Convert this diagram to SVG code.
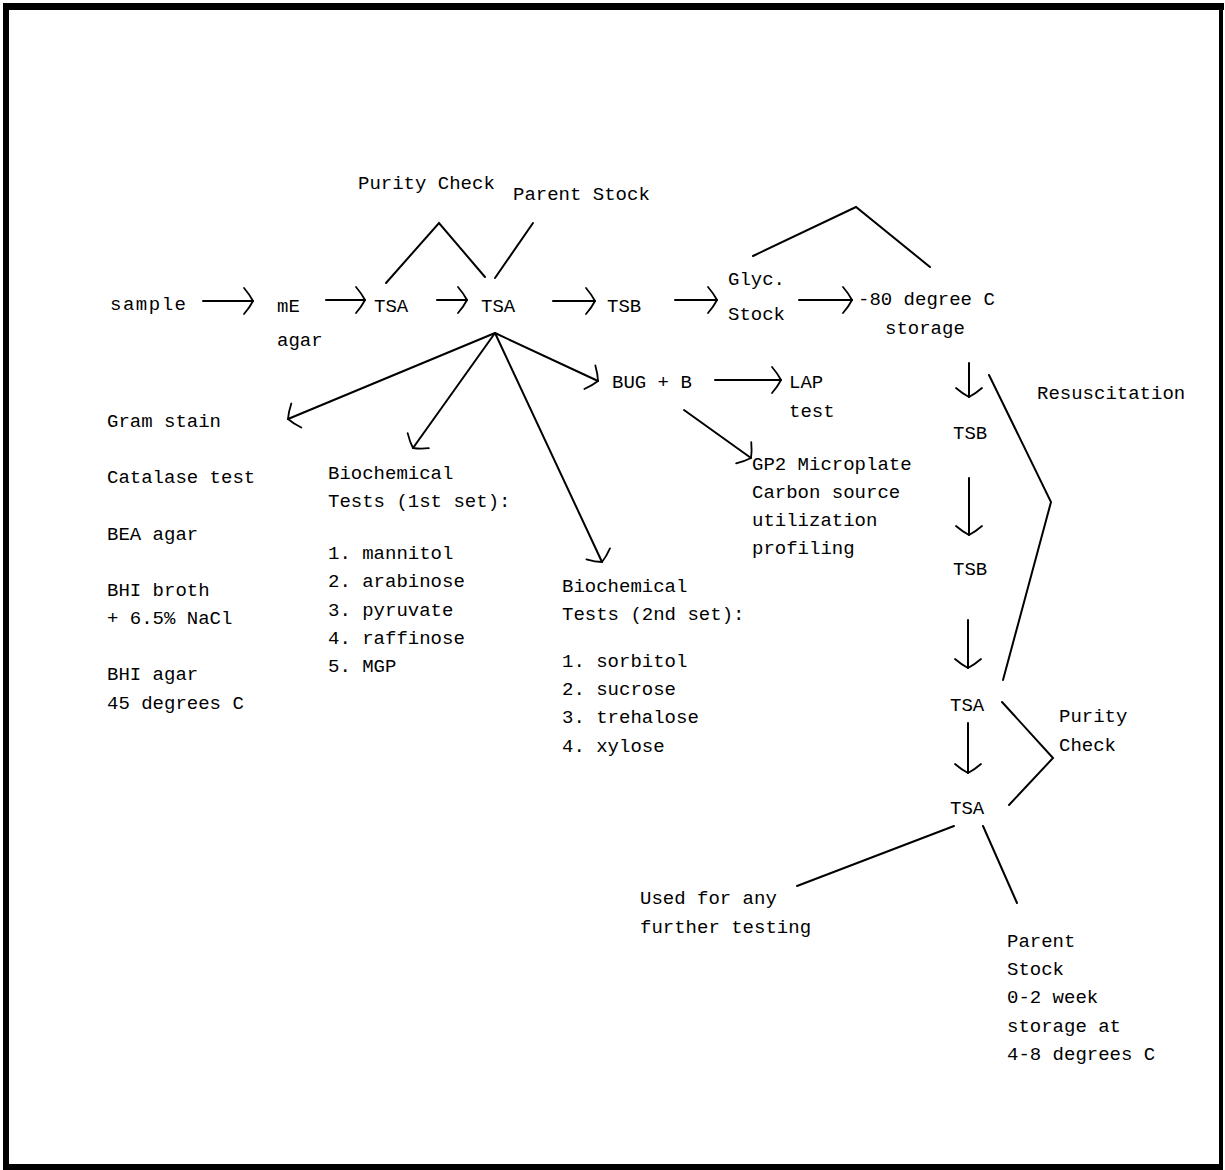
<svg xmlns="http://www.w3.org/2000/svg" width="1225" height="1170" viewBox="0 0 1225 1170">
<defs>
<style>
text { font-family: "Liberation Mono", "Courier New", monospace; font-size: 19px; fill: #000; }
.ln { fill: none; stroke: #000; stroke-width: 2; stroke-linecap: round; stroke-linejoin: miter; }
.ar { fill: none; stroke: #000; stroke-width: 2; stroke-linecap: round; marker-end: url(#head); }
</style>
<marker id="head" markerUnits="userSpaceOnUse" markerWidth="40" markerHeight="40" viewBox="-20 -20 40 40" refX="0" refY="0" orient="auto" overflow="visible">
<path d="M-9,-13 Q-3,-6 0,0 Q-3,6 -9,13" fill="none" stroke="#000" stroke-width="1.8" stroke-linecap="round"/>
</marker>
</defs>
<rect x="0" y="0" width="1225" height="1170" fill="#fff"/>
<g id="frame" fill="#000">
<rect x="3" y="3" width="1221" height="7"/>
<rect x="3" y="3" width="6" height="1167"/>
<rect x="1219" y="3" width="4" height="1167"/>
<rect x="3" y="1164" width="1220" height="6"/>
</g>
<g id="connectors">
<line class="ar" x1="203" y1="301" x2="253" y2="301"/>
<line class="ar" x1="326" y1="300" x2="365" y2="300"/>
<line class="ar" x1="437" y1="300" x2="467" y2="300"/>
<line class="ar" x1="553" y1="301" x2="595" y2="301"/>
<line class="ar" x1="675" y1="300" x2="717" y2="300"/>
<line class="ar" x1="799" y1="300" x2="852" y2="300"/>
<polyline class="ln" points="386,283 439,223 485,277"/>
<line class="ln" x1="495" y1="278" x2="533" y2="223"/>
<polyline class="ln" points="753,256 856,207 930,267"/>
<line class="ar" x1="495" y1="333" x2="288" y2="419"/>
<line class="ar" x1="495" y1="333" x2="413" y2="448"/>
<line class="ar" x1="495" y1="333" x2="602" y2="562"/>
<line class="ar" x1="495" y1="333" x2="598" y2="381"/>
<line class="ar" x1="715" y1="380" x2="781" y2="380"/>
<line class="ar" x1="684" y1="410" x2="751" y2="458"/>
<line class="ar" x1="969" y1="363" x2="969" y2="397"/>
<line class="ar" x1="969" y1="478" x2="969" y2="535"/>
<line class="ar" x1="968" y1="620" x2="968" y2="668"/>
<line class="ar" x1="968" y1="723" x2="968" y2="773"/>
<polyline class="ln" points="989,375 1051,502 1003,680"/>
<polyline class="ln" points="1002,702 1053,758 1009,805"/>
<line class="ln" x1="954" y1="826" x2="797" y2="886"/>
<line class="ln" x1="983" y1="826" x2="1017" y2="903"/>
</g>
<g id="n-sample"><text x="110" y="310" textLength="76" lengthAdjust="spacing">sample</text></g>
<g id="n-me-agar"><text x="277" y="312">mE</text><text x="277" y="346">agar</text></g>
<g id="n-tsa1"><text x="374" y="312">TSA</text></g>
<g id="n-tsa2"><text x="481" y="312">TSA</text></g>
<g id="n-purity1"><text x="358" y="189">Purity Check</text></g>
<g id="n-parent1"><text x="513" y="200">Parent Stock</text></g>
<g id="n-tsb1"><text x="607" y="312">TSB</text></g>
<g id="n-glyc"><text x="728" y="285">Glyc.</text><text x="728" y="320">Stock</text></g>
<g id="n-minus80"><text x="858" y="305">-80 degree C</text><text x="885" y="334">storage</text></g>
<g id="n-gram">
<text x="107" y="427">Gram stain</text>
<text x="107" y="483">Catalase test</text>
<text x="107" y="540">BEA agar</text>
<text x="107" y="596">BHI broth</text>
<text x="107" y="624">+ 6.5% NaCl</text>
<text x="107" y="680">BHI agar</text>
<text x="107" y="709">45 degrees C</text>
</g>
<g id="n-bio1">
<text x="328" y="479">Biochemical</text>
<text x="328" y="507">Tests (1st set):</text>
<text x="328" y="559">1. mannitol</text>
<text x="328" y="587">2. arabinose</text>
<text x="328" y="616">3. pyruvate</text>
<text x="328" y="644">4. raffinose</text>
<text x="328" y="672">5. MGP</text>
</g>
<g id="n-bio2">
<text x="562" y="592">Biochemical</text>
<text x="562" y="620">Tests (2nd set):</text>
<text x="562" y="667">1. sorbitol</text>
<text x="562" y="695">2. sucrose</text>
<text x="562" y="723">3. trehalose</text>
<text x="562" y="752">4. xylose</text>
</g>
<g id="n-bug"><text x="612" y="388">BUG + B</text></g>
<g id="n-lap"><text x="789" y="388">LAP</text><text x="789" y="417">test</text></g>
<g id="n-gp2">
<text x="752" y="470">GP2 Microplate</text>
<text x="752" y="498">Carbon source</text>
<text x="752" y="526">utilization</text>
<text x="752" y="554">profiling</text>
</g>
<g id="n-resus"><text x="1037" y="399">Resuscitation</text></g>
<g id="n-tsb2"><text x="953" y="439">TSB</text></g>
<g id="n-tsb3"><text x="953" y="575">TSB</text></g>
<g id="n-tsa3"><text x="950" y="711">TSA</text></g>
<g id="n-tsa4"><text x="950" y="814">TSA</text></g>
<g id="n-purity2"><text x="1059" y="722">Purity</text><text x="1059" y="751">Check</text></g>
<g id="n-used"><text x="640" y="904">Used for any</text><text x="640" y="933">further testing</text></g>
<g id="n-parent2">
<text x="1007" y="947">Parent</text>
<text x="1007" y="975">Stock</text>
<text x="1007" y="1003">0-2 week</text>
<text x="1007" y="1032">storage at</text>
<text x="1007" y="1060">4-8 degrees C</text>
</g>
</svg>
